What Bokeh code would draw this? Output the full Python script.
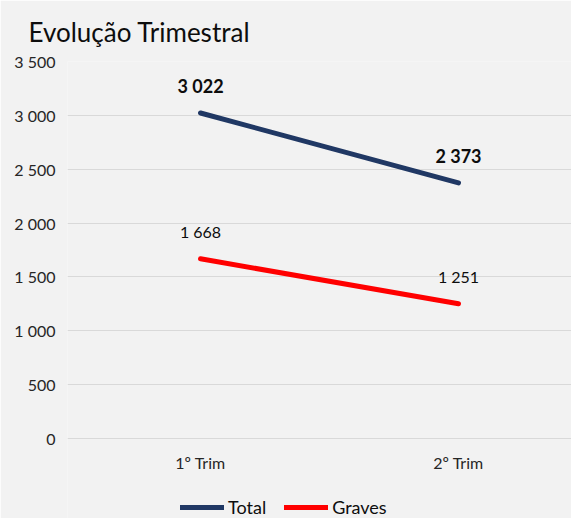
from bokeh.plotting import figure
from bokeh.models import Legend, LegendItem, ColumnDataSource, Range1d, FixedTicker
from bokeh.core.properties import value
from bokeh.embed import file_html
from bokeh.resources import INLINE

title_text = "Evolução Trimestral"
categories = ["1º Trim", "2º Trim"]
total = [3022, 2373]
graves = [1668, 1251]
y_ticks = [0, 500, 1000, 1500, 2000, 2500, 3000, 3500]

FONT = "Lato"


def fmt(v):
    return f"{v:,}".replace(",", " ")


xs = list(range(len(categories)))
src = ColumnDataSource(dict(
    x=xs, total=total, graves=graves,
    total_lbl=[fmt(v) for v in total],
    graves_lbl=[fmt(v) for v in graves],
))

# frame covers the area down to the bottom edge so the legend can sit inside it
p = figure(width=571, height=518, output_backend="svg", toolbar_location=None,
           x_range=Range1d(-0.5155, 1.438), y_range=Range1d(-742.7, 3500),
           background_fill_color="#f2f2f2", border_fill_color="#f2f2f2",
           outline_line_color=None,
           min_border_left=67, min_border_right=0, min_border_top=61,
           min_border_bottom=0)

p.title.text = title_text
p.title.align = "left"
p.title.vertical_align = "top"
p.title.text_font = FONT
p.title.text_font_size = "26px"
p.title.text_font_style = "normal"
p.title.text_color = "#0d0d0d"
p.title.offset = -39
p.title.standoff = 24

# axes
p.yaxis.ticker = FixedTicker(ticks=y_ticks)
p.yaxis.major_label_overrides = {t: fmt(t) for t in y_ticks}
p.xaxis.ticker = FixedTicker(ticks=xs)
p.xaxis.major_label_overrides = {i: c for i, c in enumerate(categories)}
p.xaxis.fixed_location = 0
for ax in (p.xaxis, p.yaxis):
    ax.axis_line_color = None
    ax.major_tick_line_color = None
    ax.minor_tick_line_color = None
    ax.major_label_text_font = FONT
    ax.major_label_text_font_size = "16px"
    ax.major_label_text_color = "#262626"
p.yaxis.major_label_standoff = 6
p.xaxis.major_label_standoff = 8

p.xgrid.grid_line_color = None
p.ygrid.grid_line_color = "#d9d9d9"
p.ygrid.grid_line_width = 1

r_total = p.line("x", "total", source=src, line_width=5, line_color="#203864",
                 line_cap="round")
r_graves = p.line("x", "graves", source=src, line_width=5, line_color="#ff0000",
                  line_cap="round")

p.text("x", "total", text="total_lbl", source=src, text_align="center",
       text_baseline="middle", y_offset=-27, text_font=value(FONT),
       text_font_size="18px", text_font_style="bold", text_color="#0d0d0d")
p.text("x", "graves", text="graves_lbl", source=src, text_align="center",
       text_baseline="middle", y_offset=-27, text_font=value(FONT),
       text_font_size="16px", text_color="#0d0d0d")

legend = Legend(items=[LegendItem(label="Total", renderers=[r_total]),
                       LegendItem(label="Graves", renderers=[r_graves])],
                orientation="horizontal", location=(113, 0),
                glyph_width=44, glyph_height=20, label_height=20,
                label_standoff=4, spacing=18, padding=0, margin=0,
                border_line_color=None, background_fill_alpha=0,
                label_text_font=FONT, label_text_font_size="18px",
                label_text_color="#0d0d0d")
p.add_layout(legend, "center")

open("out.html", "w").write(file_html(p, INLINE))
